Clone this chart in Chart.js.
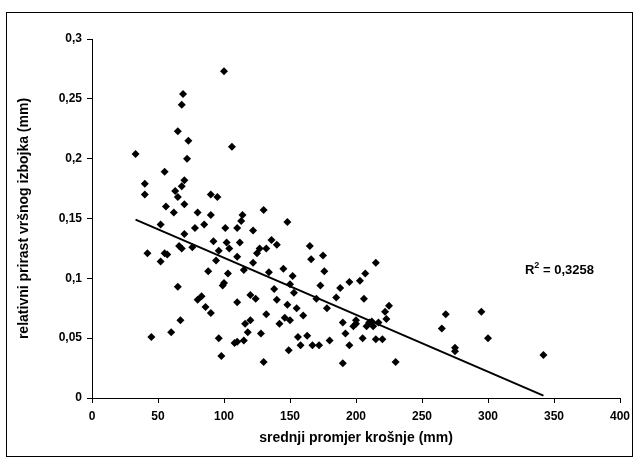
<!DOCTYPE html>
<html>
<head>
<meta charset="utf-8">
<script src="https://cdn.jsdelivr.net/npm/chart.js@4"></script>
<style>
  html, body { margin: 0; padding: 0; background: #fff; }
  #wrap { width: 639px; height: 464px; }
</style>
</head>
<body>
<div id="wrap"><canvas id="c" width="639" height="464"></canvas></div>
<script>
// promjer krosnje (mm) i relativni prirast (mm), ocitano s grafa
const promjer = [
  33, 40, 40, 42, 45, 52, 52, 55, 56, 55, 57, 60, 62, 63, 65, 65, 65, 66, 67, 68,
  69, 68, 68, 70, 70, 70, 72, 73, 76, 78, 80, 80, 83, 85, 86, 88, 90, 90, 90, 92,
  94, 95, 96, 96, 98, 99, 100, 100, 101, 102, 103, 104, 106, 108, 110, 110, 110, 110, 112, 113,
  114, 115, 115, 116, 118, 120, 120, 122, 122, 124, 125, 127, 128, 130, 130, 132, 132, 134, 136, 138,
  140, 140, 142, 145, 146, 148, 148, 149, 150, 150, 152, 153, 155, 156, 158, 160, 163, 165, 166, 167,
  170, 172, 173, 175, 176, 178, 180, 185, 188, 190, 190, 192, 195, 195, 198, 200, 200, 203, 205, 206,
  207, 208, 210, 212, 213, 215, 215, 217, 220, 222, 223, 225, 230, 265, 268, 275, 275, 295, 300, 342
];
const prirast = [
  0.204, 0.179, 0.170, 0.121, 0.051, 0.145, 0.114, 0.189, 0.160, 0.121, 0.120, 0.055, 0.155, 0.173, 0.223, 0.168, 0.093, 0.127, 0.065, 0.245,
  0.254, 0.177, 0.125, 0.162, 0.182, 0.137, 0.200, 0.215, 0.126, 0.142, 0.155, 0.082, 0.085, 0.145, 0.076, 0.106, 0.153, 0.170, 0.071, 0.131,
  0.115, 0.168, 0.123, 0.050, 0.035, 0.094, 0.273, 0.096, 0.142, 0.130, 0.104, 0.125, 0.210, 0.046, 0.118, 0.142, 0.080, 0.047, 0.130, 0.148,
  0.153, 0.107, 0.048, 0.062, 0.055, 0.065, 0.086, 0.113, 0.140, 0.083, 0.121, 0.125, 0.054, 0.157, 0.030, 0.125, 0.070, 0.105, 0.132, 0.091,
  0.128, 0.082, 0.062, 0.108, 0.067, 0.147, 0.078, 0.040, 0.065, 0.095, 0.102, 0.088, 0.075, 0.051, 0.044, 0.069, 0.052, 0.127, 0.116, 0.044,
  0.083, 0.044, 0.094, 0.119, 0.106, 0.075, 0.048, 0.084, 0.092, 0.063, 0.029, 0.054, 0.097, 0.044, 0.060, 0.062, 0.065, 0.098, 0.050, 0.083,
  0.104, 0.060, 0.063, 0.064, 0.060, 0.113, 0.049, 0.063, 0.049, 0.072, 0.066, 0.077, 0.030, 0.058, 0.070, 0.042, 0.039, 0.072, 0.050, 0.036
];
// linearni trend (krajnje tocke ocitane s grafa)
const trendX = [33, 342];
const trendY = [0.149, 0.002];
const r2Tekst = '0,3258';

const xTicks = [0, 50, 100, 150, 200, 250, 300, 350, 400];
const yTicks = [0, 0.05, 0.1, 0.15, 0.2, 0.25, 0.3];

const bold12 = { family: 'Liberation Sans, Arial, sans-serif', size: 12, weight: 'bold' };
const bold14 = { family: 'Liberation Sans, Arial, sans-serif', size: 14, weight: 'bold' };

// okvir oko cijelog grafa + R^2 oznaka
const okvir = {
  id: 'okvir',
  beforeDraw(chart) {
    const c = chart.ctx;
    c.save();
    c.fillStyle = '#fff';
    c.fillRect(0, 0, chart.width, chart.height);
    c.strokeStyle = '#000';
    c.lineWidth = 1;
    c.strokeRect(6.5, 12.5, 626, 444);
    c.restore();
  },
  afterDraw(chart) {
    const c = chart.ctx;
    const xs = chart.scales.x, ys = chart.scales.y;
    let px = xs.getPixelForValue(328);
    const py = ys.getPixelForValue(0.104);
    c.save();
    c.fillStyle = '#000';
    c.textBaseline = 'alphabetic';
    c.font = 'bold 13px Liberation Sans, Arial, sans-serif';
    c.fillText('R', px, py);
    px += c.measureText('R').width;
    c.font = 'bold 9px Liberation Sans, Arial, sans-serif';
    c.fillText('2', px, py - 6);
    px += c.measureText('2').width;
    c.font = 'bold 13px Liberation Sans, Arial, sans-serif';
    c.fillText(' = ' + r2Tekst, px, py);
    c.restore();
  }
};

const zarez = v => String(Math.round(v * 100) / 100).replace('.', ',');

new Chart(document.getElementById('c'), {
  type: 'scatter',
  data: {
    datasets: [
      {
        label: 'prirast',
        data: promjer.map((x, i) => ({ x: x, y: prirast[i] })),
        pointStyle: 'rectRot',
        pointRadius: 4,
        pointBackgroundColor: '#000',
        pointBorderColor: '#000',
        pointBorderWidth: 0,
        showLine: false
      },
      {
        label: 'trend',
        data: trendX.map((x, i) => ({ x: x, y: trendY[i] })),
        showLine: true,
        borderColor: '#000',
        borderWidth: 2,
        pointRadius: 0
      }
    ]
  },
  options: {
    responsive: false,
    animation: false,
    devicePixelRatio: 1,
    layout: { padding: { left: 0, top: 39, right: 19, bottom: 0 } },
    plugins: { legend: { display: false }, tooltip: { enabled: false } },
    scales: {
      x: {
        type: 'linear',
        min: 0, max: 400,
        afterBuildTicks: s => { s.ticks = xTicks.map(v => ({ value: v })); },
        afterFit: s => { s.height = 66; },
        ticks: { color: '#000', font: bold12, padding: 6, maxRotation: 0 },
        grid: { display: true, drawOnChartArea: false, drawTicks: true, tickLength: 5, color: '#000' },
        border: { color: '#000', width: 1 },
        title: { display: true, text: 'srednji promjer krošnje (mm)', color: '#000', font: bold14, padding: { top: 0, bottom: 17 } }
      },
      y: {
        type: 'linear',
        min: 0, max: 0.3,
        afterBuildTicks: s => { s.ticks = yTicks.map(v => ({ value: v })); },
        afterFit: s => { s.width = 92; },
        ticks: { color: '#000', font: bold12, padding: 5, callback: v => zarez(v) },
        grid: { display: true, drawOnChartArea: false, drawTicks: true, tickLength: 5, color: '#000' },
        border: { color: '#000', width: 1 },
        title: { display: true, text: 'relativni prirast vršnog izbojka (mm)', color: '#000', font: bold14, padding: { top: 16, bottom: 0 } }
      }
    }
  },
  plugins: [okvir]
});
</script>
</body>
</html>
